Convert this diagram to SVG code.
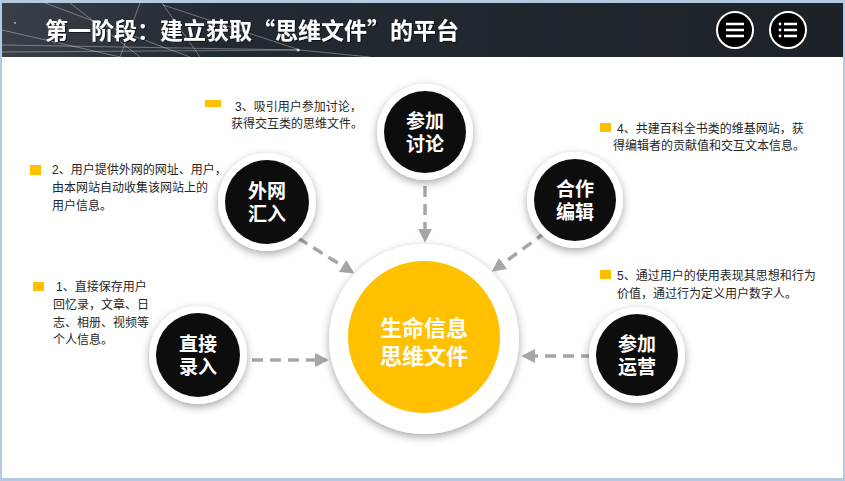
<svg xmlns="http://www.w3.org/2000/svg" width="845" height="481" viewBox="0 0 845 481">
<style>
.t{font-family:"Liberation Sans","Noto Sans CJK SC",sans-serif;font-size:12px;fill:#262626}
.n{font-family:"Liberation Sans","Noto Sans CJK SC",sans-serif;font-size:19px;font-weight:bold;fill:#fff;text-anchor:middle}
.c{font-family:"Liberation Sans","Noto Sans CJK SC",sans-serif;font-size:22px;font-weight:bold;fill:#fff;text-anchor:middle}
.b{fill:#ffc000}
.ring{fill:#fff;filter:url(#sh)}
.core{fill:#0d0d0d}
.e{stroke:#a6a6a6;stroke-width:3.5;stroke-dasharray:11 7;fill:none;marker-end:url(#ah)}
.nl{stroke:#fff;stroke-opacity:0.35;stroke-width:1;fill:none}
</style>
<defs>
<linearGradient id="hd" x1="0" y1="0" x2="1" y2="0">
<stop offset="0" stop-color="#3a4048"/>
<stop offset="0.25" stop-color="#232a31"/>
<stop offset="1" stop-color="#1c2228"/>
</linearGradient>
<filter id="sh" x="-30%" y="-30%" width="160%" height="160%">
<feDropShadow dx="0" dy="3" stdDeviation="4" flood-color="#000" flood-opacity="0.35"/>
</filter>
<filter id="ts" x="-5%" y="-20%" width="110%" height="140%">
<feDropShadow dx="1" dy="1" stdDeviation="0.5" flood-color="#000" flood-opacity="0.6"/>
</filter>
<marker id="ah" viewBox="0 0 10 10" refX="8" refY="5" markerWidth="4" markerHeight="4" orient="auto" markerUnits="strokeWidth">
<path d="M0,0 L10,5 L0,10 z" fill="#a6a6a6"/>
</marker>
</defs>
<rect width="845" height="481" fill="#b4c9e2"/>
<rect x="2" y="3" width="841" height="475" fill="#fff"/>
<g id="header">
<rect x="2" y="3" width="841" height="54" fill="url(#hd)"/>
<path class="nl" d="M45,3 L190,57 M70,3 L140,57 M140,3 L120,57 M162,3 L200,57 M2,45 L300,50 L370,57 M2,30 L120,57 M2,52 L300,50 M163,5 L300,50"/>
<circle cx="298" cy="50" r="1.5" fill="#fff" opacity="0.7"/>
<circle cx="15" cy="23" r="1" fill="#fff" opacity="0.6"/>
<text x="45" y="39" filter="url(#ts)" style="font-family:'Noto Sans CJK SC','Liberation Sans',sans-serif;font-size:23px;font-weight:bold;fill:#fff">第一阶段：建立获取“思维文件”的平台</text>
</g>
<g id="icon-menu">
<circle cx="735" cy="30" r="18" fill="#000" stroke="#fff" stroke-width="2"/>
<path d="M726,24 h18 M726,30 h18 M726,36 h18" stroke="#fff" stroke-width="2.5"/>
</g>
<g id="icon-list">
<circle cx="788" cy="30" r="18" fill="#000" stroke="#fff" stroke-width="2"/>
<path d="M784,24 h13 M784,30 h13 M784,36 h13" stroke="#fff" stroke-width="2.5"/>
<circle cx="780" cy="24" r="1.4" fill="#fff"/>
<circle cx="780" cy="30" r="1.4" fill="#fff"/>
<circle cx="780" cy="36" r="1.4" fill="#fff"/>
</g>
<g id="connectors">
<path class="e" d="M252,360 L326,360"/>
<path class="e" d="M592,356 L524,356"/>
<path class="e" d="M425,186 L425,240"/>
<path class="e" d="M298,238 L352,272"/>
<path class="e" d="M546,232 L494,270"/>
</g>
<g id="center">
<circle class="ring" cx="424" cy="339" r="95"/>
<circle cx="424" cy="337" r="76" fill="#ffc000"/>
<text class="c" x="424" y="336">生命信息</text>
<text class="c" x="424" y="364">思维文件</text>
</g>
<g id="node-discuss">
<circle class="ring" cx="425" cy="132" r="48"/>
<circle class="core" cx="425" cy="132" r="41"/>
<text class="n" x="425" y="128">参加</text>
<text class="n" x="425" y="151">讨论</text>
</g>
<g id="node-external">
<circle class="ring" cx="267" cy="202" r="49"/>
<circle class="core" cx="267" cy="202" r="42"/>
<text class="n" x="267" y="198">外网</text>
<text class="n" x="267" y="221">汇入</text>
</g>
<g id="node-edit">
<circle class="ring" cx="575" cy="200" r="48"/>
<circle class="core" cx="575" cy="200" r="41"/>
<text class="n" x="575" y="196">合作</text>
<text class="n" x="575" y="219">编辑</text>
</g>
<g id="node-direct">
<circle class="ring" cx="198" cy="355" r="49"/>
<circle class="core" cx="198" cy="355" r="42"/>
<text class="n" x="198" y="351">直接</text>
<text class="n" x="198" y="374">录入</text>
</g>
<g id="node-operate">
<circle class="ring" cx="637" cy="355" r="48"/>
<circle class="core" cx="637" cy="355" r="41"/>
<text class="n" x="637" y="351">参加</text>
<text class="n" x="637" y="374">运营</text>
</g>
<g id="note-1">
<rect class="b" x="33" y="282" width="11" height="9"/>
<text class="t" x="56" y="291">1、直接保存用户</text>
<text class="t" x="53" y="309">回忆录，文章、日</text>
<text class="t" x="53" y="327">志、相册、视频等</text>
<text class="t" x="53" y="344">个人信息。</text>
</g>
<g id="note-2">
<rect class="b" x="30" y="165" width="11" height="10"/>
<text class="t" x="52" y="174">2、用户提供外网的网址、用户，</text>
<text class="t" x="52" y="192">由本网站自动收集该网站上的</text>
<text class="t" x="52" y="210">用户信息。</text>
</g>
<g id="note-3">
<rect class="b" x="205" y="100" width="16" height="7"/>
<text class="t" x="235" y="111">3、吸引用户参加讨论，</text>
<text class="t" x="231" y="128">获得交互类的思维文件。</text>
</g>
<g id="note-4">
<rect class="b" x="600" y="123" width="11" height="9"/>
<text class="t" x="617" y="133">4、共建百科全书类的维基网站，获</text>
<text class="t" x="613" y="150">得编辑者的贡献值和交互文本信息。</text>
</g>
<g id="note-5">
<rect class="b" x="600" y="270" width="11" height="9"/>
<text class="t" x="617" y="280">5、通过用户的使用表现其思想和行为</text>
<text class="t" x="617" y="298">价值，通过行为定义用户数字人。</text>
</g>
</svg>
